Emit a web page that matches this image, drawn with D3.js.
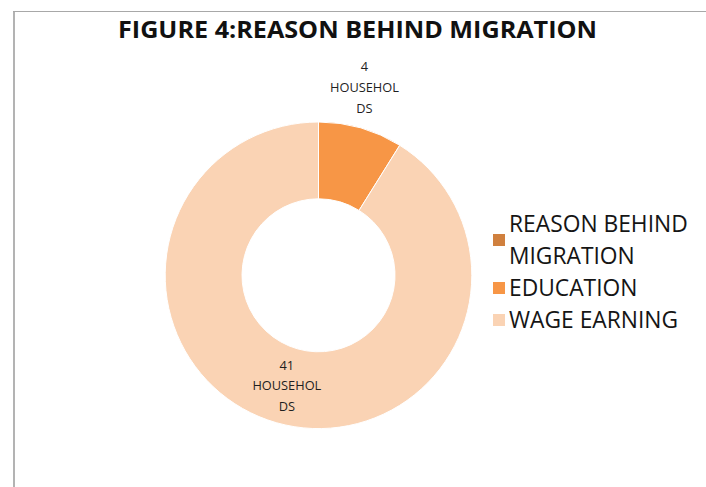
<!DOCTYPE html>
<html>
<head>
<meta charset="utf-8">
<script src="https://cdn.jsdelivr.net/npm/d3@7"></script>
<style>
  html, body { margin: 0; padding: 0; background: #fff; }
  svg { display: block; }
  text { font-family: "Open Sans", "Noto Sans", sans-serif; }
</style>
</head>
<body>
<svg id="chart" width="706" height="487"></svg>
<script>
// Survey categories (the first one is the header row, which carries no value)
const categories = ["REASON BEHIND MIGRATION", "EDUCATION", "WAGE EARNING"];
const households = [null, 4, 41];
const colors = ["#D0803E", "#F79646", "#FAD3B4"];
const labelUnitLines = ["HOUSEHOL", "DS"];
const titleText = "FIGURE 4:REASON BEHIND MIGRATION";

const svg = d3.select("#chart");

// chart-area frame (left and top edges visible)
svg.append("line").attr("x1", 14).attr("x2", 14).attr("y1", 11.5).attr("y2", 487)
  .attr("stroke", "#b3b3b3").attr("stroke-width", 2);
svg.append("line").attr("x1", 13).attr("x2", 706).attr("y1", 11.5).attr("y2", 11.5)
  .attr("stroke", "#a8a8a8").attr("stroke-width", 1);

// title
svg.append("text")
  .attr("x", 357.5).attr("y", 38)
  .attr("text-anchor", "middle")
  .attr("font-weight", 700)
  .attr("font-size", 22.4)
  .attr("fill", "#111")
  .attr("textLength", 479)
  .attr("lengthAdjust", "spacingAndGlyphs")
  .text(titleText);

// donut
const cx = 318.5, cy = 275.3, outerR = 153.3, innerR = 76.5;
const records = categories.map((c, i) => ({ category: c, value: households[i], color: colors[i] }));
const drawn = records.filter(d => d.value != null && d.value > 0);

const pie = d3.pie().value(d => d.value).sort(null).startAngle(0).endAngle(2 * Math.PI);
const arc = d3.arc().innerRadius(innerR).outerRadius(outerR);
const arcs = pie(drawn);

const g = svg.append("g").attr("transform", `translate(${cx},${cy})`);
g.selectAll("path.slice")
  .data(arcs)
  .join("path")
  .attr("class", "slice")
  .attr("d", arc)
  .attr("fill", d => d.data.color)
  .attr("stroke", "#fff")
  .attr("stroke-width", 1);

// data labels: wage earning sits on its ring centroid, education label is pulled out above the ring
const labelPos = d => {
  if (d.data.category === "EDUCATION") {
    const a = d.startAngle + (d.endAngle - d.startAngle) * 0.43;
    const r = outerR + 40;
    return [Math.sin(a) * r, -Math.cos(a) * r];
  }
  return arc.centroid(d);
};

const lineGap = 20.7;
arcs.forEach(d => {
  const [lx, ly] = labelPos(d);
  const lines = [String(d.data.value)].concat(labelUnitLines);
  const t = g.append("text")
    .attr("text-anchor", "middle")
    .attr("font-size", 12.8)
    .attr("fill", "#1f1f1f");
  lines.forEach((ln, i) => {
    t.append("tspan")
      .attr("x", lx)
      .attr("y", ly + (i - 1) * lineGap + 4.6)
      .text(ln);
  });
});

// legend
const legend = svg.append("g").attr("transform", "translate(493,0)");
const legendRows = [
  { lines: ["REASON BEHIND", "MIGRATION"], baseline: 232 },
  { lines: ["EDUCATION"], baseline: 296 },
  { lines: ["WAGE EARNING"], baseline: 328 }
];
const legendLineGap = 32;
legendRows.forEach((row, i) => {
  const firstMid = row.baseline - 8;
  const lastMid = row.baseline + (row.lines.length - 1) * legendLineGap - 8;
  const mid = (firstMid + lastMid) / 2;
  legend.append("rect")
    .attr("x", 0).attr("y", mid - 6)
    .attr("width", 12).attr("height", 12)
    .attr("fill", records[i].color);
  const t = legend.append("text")
    .attr("font-size", 22.8)
    .attr("fill", "#151515");
  row.lines.forEach((ln, j) => {
    t.append("tspan").attr("x", 16).attr("y", row.baseline + j * legendLineGap).text(ln);
  });
});
</script>
</body>
</html>
